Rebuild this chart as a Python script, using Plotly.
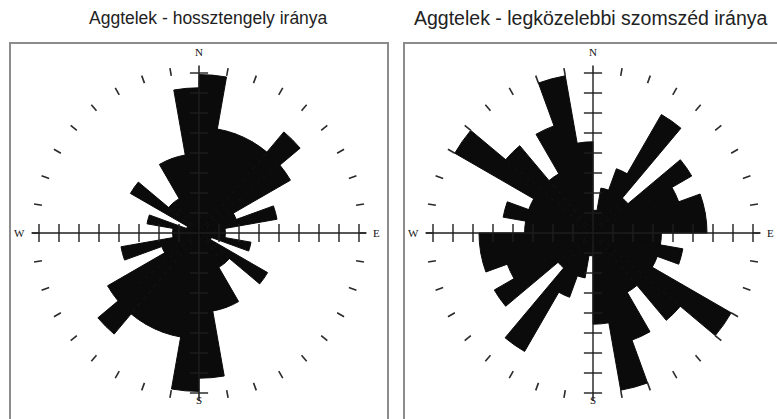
import math
import plotly.graph_objects as go

# ---------------- data ----------------
# 10-degree direction sectors (centre of each sector, degrees clockwise from North)
sector_centres = [5, 15, 25, 35, 45, 55, 65, 75, 85, 95, 105, 115, 125, 135, 145, 155, 165, 175,
                  185, 195, 205, 215, 225, 235, 245, 255, 265, 275, 285, 295, 305, 315, 325, 335, 345, 355]
sector_width = 10

# left rose: orientation of the long axis (axial data, counts per sector)
long_axis_counts = [12, 8, 8, 8, 10, 8, 3, 6, 2, 2, 4, 1, 6, 3, 3, 6, 6, 11,
                    12, 8, 8, 8, 10, 8, 3, 6, 2, 2, 4, 1, 6, 3, 3, 6, 6, 11]

# right rose: direction of the nearest neighbour (counts per sector)
nearest_counts = [1, 2, 3, 6, 2, 5, 4, 5, 5, 3, 4, 3, 7, 5, 3, 5, 7, 4,
                  1, 2, 3, 6, 2, 5, 4, 5, 5, 3, 4, 3, 7, 5, 3, 5, 7, 4]

titles = ["Aggtelek - hossztengely iránya", "Aggtelek - legközelebbi szomszéd iránya"]

# angular ticks (short dashes every 10 degrees) and compass letters
angle_ticks = [0, 10, 20, 30, 40, 50, 60, 70, 80, 90, 100, 110, 120, 130, 140, 150, 160, 170,
               180, 190, 200, 210, 220, 230, 240, 250, 260, 270, 280, 290, 300, 310, 320, 330, 340, 350]
compass_text = ["N", "E", "S", "W"]
compass_theta = [0, 90, 180, 270]

# cross-axis tick marks: 8 equal steps along each arm
cross_ticks = [1, 2, 3, 4, 5, 6, 7, 8]

# ---------------- geometry / style ----------------
W, H = 777, 419
R_PX = 168            # radius of the dash ring (outer end) in px
TICK_STEP_PX = 20     # spacing of the cross-axis ticks
NS_ARM_PX = 160
EW_ARM_PX = 167
LABEL_R_PX = [181, 177, 167, 180]   # distance of N, E, S, W letters from the centre
centres_px = [(199, 233), (593, 233)]
px_per_count = [13.2, 22.8]
BAR = "#0b0b0b"
INK = "#1e1e1e"

fig = go.Figure()
annotations = []

panels = [long_axis_counts, nearest_counts]
for i, counts in enumerate(panels):
    pid = "polar" if i == 0 else "polar2"
    scale = px_per_count[i]
    fig.add_trace(go.Barpolar(
        r=counts, theta=sector_centres, width=[sector_width] * len(sector_centres),
        marker=dict(color=BAR, line=dict(color=BAR, width=1.0)),
        subplot=pid, showlegend=False, hoverinfo="skip"))
    # cross axes
    ns = NS_ARM_PX / scale
    ew = EW_ARM_PX / scale
    fig.add_trace(go.Scatterpolar(r=[ns, 0, ns], theta=[0, 0, 180], mode="lines",
                                  line=dict(color=INK, width=1.4), subplot=pid,
                                  showlegend=False, hoverinfo="skip", cliponaxis=False))
    fig.add_trace(go.Scatterpolar(r=[ew, 0, ew], theta=[90, 90, 270], mode="lines",
                                  line=dict(color=INK, width=1.4), subplot=pid,
                                  showlegend=False, hoverinfo="skip", cliponaxis=False))
    tick_r = [k * TICK_STEP_PX / scale for k in cross_ticks]
    fig.add_trace(go.Scatterpolar(r=tick_r + tick_r, theta=[0] * len(tick_r) + [180] * len(tick_r),
                                  mode="markers",
                                  marker=dict(symbol="line-ew", size=13, color=INK,
                                              line=dict(color=INK, width=1.4)),
                                  subplot=pid, showlegend=False, hoverinfo="skip", cliponaxis=False))
    fig.add_trace(go.Scatterpolar(r=tick_r + tick_r, theta=[90] * len(tick_r) + [270] * len(tick_r),
                                  mode="markers",
                                  marker=dict(symbol="line-ns", size=13, color=INK,
                                              line=dict(color=INK, width=1.4)),
                                  subplot=pid, showlegend=False, hoverinfo="skip", cliponaxis=False))
    # compass letters, placed just outside the dash ring
    cx, cy = centres_px[i]
    for txt, th, rp in zip(compass_text, compass_theta, LABEL_R_PX):
        a = math.radians(th)
        annotations.append(dict(text=txt, x=(cx + rp * math.sin(a)) / W,
                                y=(H - (cy - rp * math.cos(a))) / H,
                                xref="paper", yref="paper", xanchor="center", yanchor="middle",
                                showarrow=False,
                                font=dict(family="Liberation Serif", size=11, color="#111111")))

def polar_layout(i):
    cx, cy = centres_px[i]
    return dict(
        domain=dict(x=[(cx - R_PX) / W, (cx + R_PX) / W],
                    y=[(H - cy - R_PX) / H, (H - cy + R_PX) / H]),
        bgcolor="rgba(0,0,0,0)",
        angularaxis=dict(direction="clockwise", rotation=90,
                         tickmode="array", tickvals=angle_ticks,
                         ticks="inside", ticklen=8, tickwidth=1.6, tickcolor="#2a2a2a",
                         showticklabels=False, showline=False, showgrid=False),
        radialaxis=dict(range=[0, R_PX / px_per_count[i]], visible=False,
                        showgrid=False, showline=False, showticklabels=False, ticks=""),
    )

shapes = [
    dict(type="rect", xref="paper", yref="paper", x0=10 / W, x1=388 / W, y0=-0.1, y1=(H - 43) / H,
         line=dict(color="#8c8c8c", width=2), fillcolor="rgba(0,0,0,0)", layer="below"),
    dict(type="rect", xref="paper", yref="paper", x0=404 / W, x1=1.05, y0=-0.1, y1=(H - 43) / H,
         line=dict(color="#8c8c8c", width=2), fillcolor="rgba(0,0,0,0)", layer="below"),
]

title_x = [209 / W, 591 / W]
title_size = [17.5, 19.5]
for i, t in enumerate(titles):
    annotations.append(dict(text=t, x=title_x[i], y=(H - 18) / H, xref="paper", yref="paper",
                            xanchor="center", yanchor="middle", showarrow=False,
                            font=dict(family="Liberation Sans, Arial", size=title_size[i],
                                      color="#222222")))

fig.update_layout(
    width=W, height=H, margin=dict(l=0, r=0, t=0, b=0),
    paper_bgcolor="white", plot_bgcolor="white",
    polar=polar_layout(0), polar2=polar_layout(1),
    shapes=shapes, annotations=annotations, showlegend=False,
)

fig.write_html("out.html", config={"displayModeBar": False, "staticPlot": True},
               post_script="document.body.style.margin='0px';document.body.style.padding='0px';"
                           "document.body.style.overflow='hidden';")
